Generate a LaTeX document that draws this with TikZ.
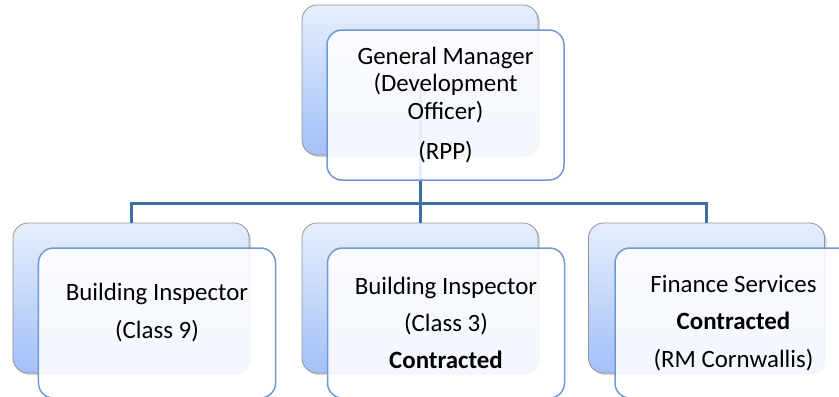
\documentclass[tikz,border=0pt]{standalone}
\usepackage{fontspec}
\setmainfont{Carlito}
\usepackage{xcolor}
\usetikzlibrary{shadows}

\definecolor{shadetop}{HTML}{E6EEFC}
\definecolor{shadebot}{HTML}{A3C0F8}
\definecolor{frameblue}{HTML}{6D9AD4}
\definecolor{linkblue}{HTML}{3F6FA8}

\begin{document}
\begin{tikzpicture}[
    x=1bp, y=-1bp,
    backbox/.style={rectangle, rounded corners=15bp, minimum width=236bp, minimum height=150bp, inner sep=0pt,
        draw=gray!85, line width=0.8bp, top color=shadetop, bottom color=shadebot,
        drop shadow={shadow xshift=2bp, shadow yshift=-2bp, opacity=0.35}},
    frontbox/.style={rectangle, rounded corners=15bp, minimum width=237bp, minimum height=150bp, inner sep=0pt,
        draw=frameblue, line width=1.5bp, fill=white, fill opacity=0.88, text opacity=1, align=center},
    toptext/.style={font=\fontsize{25}{28}\selectfont},
    lowtext/.style={font=\fontsize{25}{37.5}\selectfont},
    link/.style={draw=linkblue, line width=3bp}
]
\useasboundingbox (0,0) rectangle (839,396);

% back cards
\node[backbox] (gmback) at (420,80) {};
\node[backbox] (insp9back) at (131,298) {};
\node[backbox] (insp3back) at (420,298) {};
\node[backbox] (financeback) at (706.5,298) {};

% reporting lines
\draw[link] (gmback.center) -- ++(0,123) coordinate (bus);
\draw[link] (bus) -| (insp9back.north);
\draw[link] (bus) -| (financeback.north);
\draw[link] (bus) -- (insp3back.north);

% front cards
\node[frontbox, toptext] (gm) at (445.5,105) {General Manager\\(Development\\Officer)\\[12bp](RPP)};
\node[frontbox, lowtext] (insp9) at (157,323) {Building Inspector\\(Class 9)\\[-13bp]\mbox{}};
\node[frontbox, lowtext] (insp3) at (446,323) {Building Inspector\\(Class 3)\\\textbf{Contracted}};
\node[frontbox, lowtext] (finance) at (733.5,323) {Finance Services\\\textbf{Contracted}\\(RM Cornwallis)};

\end{tikzpicture}
\end{document}
